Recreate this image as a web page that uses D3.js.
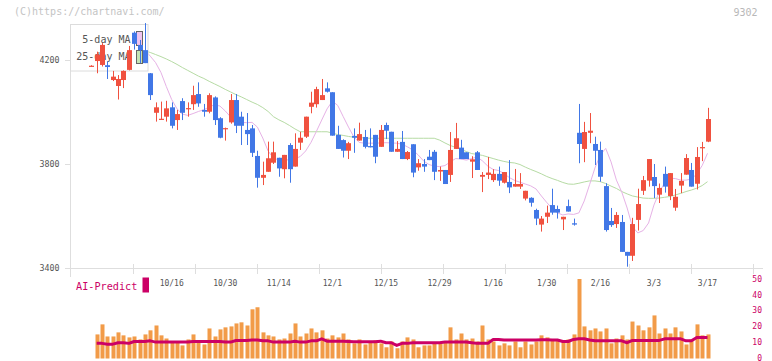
<!DOCTYPE html>
<html><head><meta charset="utf-8">
<script src="https://cdn.jsdelivr.net/npm/d3@7/dist/d3.min.js"></script>
<style>
html,body{margin:0;padding:0;background:#fff;}
svg{display:block;}
text{font-family:"DejaVu Sans Mono","Liberation Mono",monospace;}
</style></head><body>
<svg id="chart" width="772" height="361"></svg>
<script>
// ---------- data ----------
const opens = [4175,4196,4181,4180,4123,4100,4123,4162,4305,4258,
4238,4149,3997,3972,3982,4018,3969,4042,4012,4030,
4069,4008,4001,4056,3976,3935,3960,4046,3982,3931,
3937,3831,3747,3770,3805,3824,3780,3873,3790,3882,
3905,4020,4030,4046,4091,4076,3912,3892,3851,3908,
3890,3904,3869,3912,3866,3950,3924,3847,3885,3819,
3876,3787,3800,3828,3847,3771,3777,3758,3858,3863,
3845,3809,3845,3751,3758,3738,3762,3728,3731,3713,
3713,3667,3670,3623,3567,3597,3642,3627,3587,3638,
3572,3920,3858,3920,3877,3854,3715,3581,3569,3577,
3462,3447,3585,3697,3736,3750,3682,3762,3677,3632,
3717,3759,3777,3724,3863,3886];
const closes = [4178,4221,4258,4173,4136,4127,4158,4238,4262,4238,
4188,4065,4018,3974,4014,3947,3992,3997,4015,4065,
4033,4001,4065,3969,3901,3938,4046,3947,3947,3915,
3843,3747,3758,3822,3845,3783,3835,3780,3858,3901,
3982,4036,4088,4065,4078,3909,3858,3851,3880,3901,
3915,3866,3864,3828,3931,3928,3847,3858,3819,3846,
3767,3803,3790,3815,3770,3777,3723,3854,3899,3819,
3819,3818,3777,3758,3767,3762,3736,3769,3710,3723,
3723,3697,3651,3590,3590,3613,3613,3613,3597,3617,
3567,3877,3923,3928,3851,3751,3546,3565,3604,3462,
3447,3569,3646,3738,3819,3715,3708,3713,3765,3674,
3735,3823,3713,3827,3865,3973];
const highs = [4180,4232,4265,4195,4158,4142,4160,4254,4310,4277,
4342,4150,4037,4040,4043,4037,4008,4053,4037,4101,
4114,4031,4072,4060,3980,3940,4069,4069,4001,3996,
3950,3851,3809,3886,3886,3824,3835,3880,3918,3924,
3982,4078,4097,4127,4114,4076,3947,3895,3885,3937,
3959,3931,3937,3912,3950,3959,3924,3888,3927,3850,
3876,3819,3819,3854,3854,3790,3777,3923,3958,3893,
3845,3830,3850,3769,3827,3780,3790,3769,3815,3781,
3765,3697,3672,3628,3600,3640,3705,3640,3597,3663,
3590,4031,3962,3996,3905,3886,3726,3631,3615,3604,
3462,3593,3705,3754,3819,3800,3725,3790,3765,3704,
3765,3838,3804,3865,3885,4016];
const lows = [4174,4149,4175,4127,4119,4048,4092,4160,4240,4188,
4188,4046,3963,3970,3963,3937,3931,3969,3982,4008,
4020,3982,3995,3950,3899,3890,3955,3919,3873,3873,
3827,3709,3719,3770,3800,3751,3745,3728,3790,3854,
3900,3995,4017,4046,4075,3909,3858,3825,3819,3843,
3890,3860,3864,3803,3866,3896,3847,3847,3819,3815,
3749,3774,3770,3815,3738,3735,3723,3731,3858,3819,
3819,3746,3777,3692,3742,3731,3716,3725,3688,3713,
3704,3660,3636,3565,3540,3573,3605,3590,3546,3617,
3563,3803,3807,3880,3796,3732,3540,3558,3554,3462,
3405,3427,3544,3681,3713,3669,3650,3690,3661,3620,
3688,3759,3713,3702,3811,3884];
const ma5 = [null,null,null,null,null,null,null,null,null,null,
4238,4215,4190,4152,4098,4048,4012,3992,3987,3994,
4002,4009,4019,4028,4023,4004,3981,3964,3960,3959,
3960,3942,3900,3850,3822,3816,3815,3816,3819,3829,
3850,3883,3925,3969,4012,4042,4025,3983,3942,3904,
3883,3880,3880,3880,3881,3882,3881,3880,3876,3866,
3854,3835,3812,3798,3792,3790,3794,3808,3821,3819,
3815,3821,3827,3812,3792,3779,3775,3764,3748,3737,
3730,3723,3716,3704,3677,3652,3629,3612,3604,3608,
3606,3612,3658,3721,3785,3835,3860,3808,3738,3692,
3631,3558,3535,3544,3573,3642,3692,3727,3745,3744,
3738,3738,3742,3762,3794,3841];
const ma25 = [null,null,null,null,null,null,null,null,null,null,
4235,4229,4221,4213,4204,4194,4183,4171,4160,4149,
4138,4129,4118,4108,4098,4087,4077,4067,4058,4048,
4038,4029,4017,4002,3982,3970,3960,3948,3935,3924,
3924,3924,3924,3924,3924,3919,3913,3910,3906,3903,
3902,3900,3899,3899,3899,3899,3899,3899,3899,3899,
3899,3899,3899,3899,3899,3892,3881,3871,3864,3856,
3848,3840,3837,3833,3827,3821,3815,3810,3806,3804,
3798,3788,3779,3771,3762,3752,3744,3737,3729,3723,
3722,3726,3731,3735,3735,3732,3725,3715,3706,3694,
3685,3677,3673,3669,3668,3668,3669,3672,3675,3681,
3687,3694,3700,3707,3717,3732];
const volumes = [null,
14.7,21.1,13.4,13.4,16.0,14.1,12.8,13.4,11.5,14.7,
17.3,20.4,14.1,12.1,9.6,9.6,7.7,11.5,14.7,9.6,
8.3,18.5,13.4,17.9,19.2,19.8,21.7,22.4,20.4,30.7,
32.0,16.0,14.1,13.4,11.5,12.1,15.3,21.7,13.4,15.3,
18.5,16.0,17.3,12.1,14.1,12.8,15.3,11.5,9.0,11.5,
8.3,10.2,10.9,9.0,6.5,10.2,5.9,10.2,12.8,11.5,
6.5,7.7,7.7,9.6,9.0,9.6,19.2,11.5,15.3,11.5,
12.1,10.2,20.4,11.5,10.2,7.7,9.0,7.7,10.2,6.5,
10.2,8.3,10.2,14.1,12.8,11.5,11.5,10.2,11.5,14.7,
50,19.8,17.3,18.5,16.6,18.5,9.0,12.1,14.1,11.5,
22.9,20.4,17.3,19.2,26.8,15.3,18.5,15.3,19.2,16.6,
8.3,11.5,21.1,14.1,14.7];
const aiPredict = [null,
9.0,9.0,8.5,8.5,9.4,9.4,9.0,10.2,10.2,10.2,
10.6,9.8,9.8,9.8,9.8,9.8,9.8,9.8,10.2,10.2,
10.2,10.2,10.2,10.2,9.8,9.8,10.8,10.8,10.8,11.1,
11.1,10.6,10.6,9.8,9.8,9.8,9.8,10.4,9.8,9.8,
10.6,10.6,11.9,10.4,10.4,10.4,10.4,10.2,10.0,10.0,
10.0,10.0,10.0,10.4,9.4,9.4,7.7,9.0,9.0,9.4,
9.4,9.4,9.4,9.4,9.4,9.8,9.8,9.8,9.8,9.8,
9.4,9.0,9.0,9.0,11.5,11.5,11.1,11.1,11.1,11.1,
11.1,11.1,11.1,11.3,11.3,11.1,11.1,10.2,10.2,11.5,
11.9,11.9,11.1,10.6,10.6,10.6,10.6,10.6,10.6,9.4,
10.9,10.9,10.9,10.9,10.9,10.9,11.9,11.9,11.9,11.9,
10.6,10.6,12.8,12.8,12.8];
const dateLabels = ["10/16","10/30","11/14","12/1","12/15","12/29","1/16","1/30","2/16","3/3","3/17"];
const dateLabelIdx = [15,25,35,45,55,65,75,85,95,105,115];
const priceTicks = [3400,3800,4200];
const volTicks = [0,10,20,30,40,50];
const gridDivs = [1,2,3,4,5,6,7,8,9,10,11];

// ---------- colors ----------
const UP = "#f0513f", DOWN = "#4177e6";
const PINK = "#e6b2e6", GREEN = "#b6dba4";
const AI = "#cc0066", VOL = "#f29b48", AXIS = "#dedede";

const svg = d3.select("#chart");
const n = closes.length;
const x = d3.scaleLinear().domain([0, n - 1]).range([91.3, 707.5]);
const grid = d3.scaleLinear().domain([0, 11]).range([70.5, 752.5]);
const y = d3.scaleLinear().domain([3400, 4200]).range([268, 60]);
const yv = d3.scaleLinear().domain([0, 50]).range([357.5, 279]);

// header texts
svg.append("text").attr("x", 14).attr("y", 15).attr("font-size", 10).attr("fill", "#c4c4c4")
  .text("(C)https://chartnavi.com/");
svg.append("text").attr("x", 757.5).attr("y", 16).attr("font-size", 10).attr("fill", "#b8b8b8")
  .attr("text-anchor", "end").text("9302");

// axes
svg.append("line").attr("x1", 70.5).attr("x2", 70.5).attr("y1", 24).attr("y2", 277)
  .attr("stroke", AXIS);
svg.append("line").attr("x1", 65).attr("x2", 763).attr("y1", 268.5).attr("y2", 268.5)
  .attr("stroke", AXIS);
svg.selectAll(".ytick").data(priceTicks).enter().append("line")
  .attr("x1", 65).attr("x2", 71).attr("y1", d => Math.round(y(d)) + 0.5).attr("y2", d => Math.round(y(d)) + 0.5)
  .attr("stroke", AXIS);
svg.selectAll(".ylab").data(priceTicks).enter().append("text")
  .attr("x", 59.5).attr("y", d => y(d) + 3).attr("text-anchor", "end")
  .attr("font-size", 8.3).attr("fill", "#555").text(d => d);
svg.selectAll(".xtick").data(gridDivs).enter().append("line")
  .attr("x1", d => Math.round(grid(d)) + 0.5).attr("x2", d => Math.round(grid(d)) + 0.5)
  .attr("y1", 264).attr("y2", 274).attr("stroke", AXIS);
svg.selectAll(".xlab").data(dateLabels).enter().append("text")
  .attr("x", (d, i) => x(dateLabelIdx[i])).attr("y", 285.5).attr("text-anchor", "middle")
  .attr("font-size", 8).attr("fill", "#555").text(d => d);

// MA lines
const lineFn = d3.line().defined(d => d[1] != null).x(d => x(d[0])).y(d => y(d[1]));
svg.append("path").datum(ma25.map((v, i) => [i, v])).attr("d", lineFn)
  .attr("fill", "none").attr("stroke", GREEN).attr("stroke-width", 1);
svg.append("path").datum(ma5.map((v, i) => [i, v])).attr("d", lineFn)
  .attr("fill", "none").attr("stroke", PINK).attr("stroke-width", 1);

// legend box
svg.append("rect").attr("x", 70.5).attr("y", 24.5).attr("width", 77.5).attr("height", 46.5)
  .attr("fill", "#fff").attr("stroke", "#dcdcdc");
svg.append("text").attr("x", 130.5).attr("y", 43).attr("text-anchor", "end").attr("font-size", 10)
  .attr("fill", "#555").text("5-day MA");
svg.append("text").attr("x", 130.5).attr("y", 59.5).attr("text-anchor", "end").attr("font-size", 10)
  .attr("fill", "#555").text("25-day MA");
svg.append("rect").attr("x", 136.5).attr("y", 31.5).attr("width", 6).attr("height", 14)
  .attr("fill", "#f0c4f0").attr("stroke", "#666");
svg.append("rect").attr("x", 136.5).attr("y", 50.5).attr("width", 6).attr("height", 13)
  .attr("fill", "#c4e4b4").attr("stroke", "#666");

// candles
const idx = d3.range(n);
const cg = svg.append("g");
cg.selectAll(".wick").data(idx).enter().append("line")
  .attr("x1", i => Math.round(x(i)) + 0.5).attr("x2", i => Math.round(x(i)) + 0.5)
  .attr("y1", i => y(highs[i])).attr("y2", i => y(lows[i]))
  .attr("stroke", i => closes[i] >= opens[i] ? UP : DOWN).attr("stroke-width", 1);
cg.selectAll(".body").data(idx).enter().append("rect")
  .attr("x", i => Math.round(x(i)) - 2)
  .attr("width", 5)
  .attr("y", i => Math.min(y(opens[i]), y(closes[i])))
  .attr("height", i => Math.max(1.2, Math.abs(y(opens[i]) - y(closes[i]))))
  .attr("fill", i => closes[i] >= opens[i] ? UP : DOWN);

// volume panel
svg.selectAll(".vbar").data(idx.filter(i => volumes[i] != null)).enter().append("rect")
  .attr("x", i => Math.round(x(i)) - 1.5).attr("width", 4)
  .attr("y", i => yv(volumes[i])).attr("height", i => yv(0) - yv(volumes[i]) + 1)
  .attr("fill", VOL);
const aiLine = d3.line().defined(d => d[1] != null).x(d => x(d[0])).y(d => yv(d[1]));
svg.append("path").datum(aiPredict.map((v, i) => [i, v])).attr("d", aiLine)
  .attr("fill", "none").attr("stroke", AI).attr("stroke-width", 3).attr("stroke-linejoin", "round");
svg.selectAll(".vlab").data(volTicks).enter().append("text")
  .attr("x", 762).attr("y", d => yv(d) + 3).attr("text-anchor", "end")
  .attr("font-size", 8).attr("fill", AI).text(d => d);
svg.append("text").attr("x", 76).attr("y", 290).attr("font-size", 10.2).attr("fill", AI)
  .text("AI-Predict");
svg.append("rect").attr("x", 142.5).attr("y", 277.5).attr("width", 6.5).attr("height", 15)
  .attr("fill", AI);
</script>
</body></html>
